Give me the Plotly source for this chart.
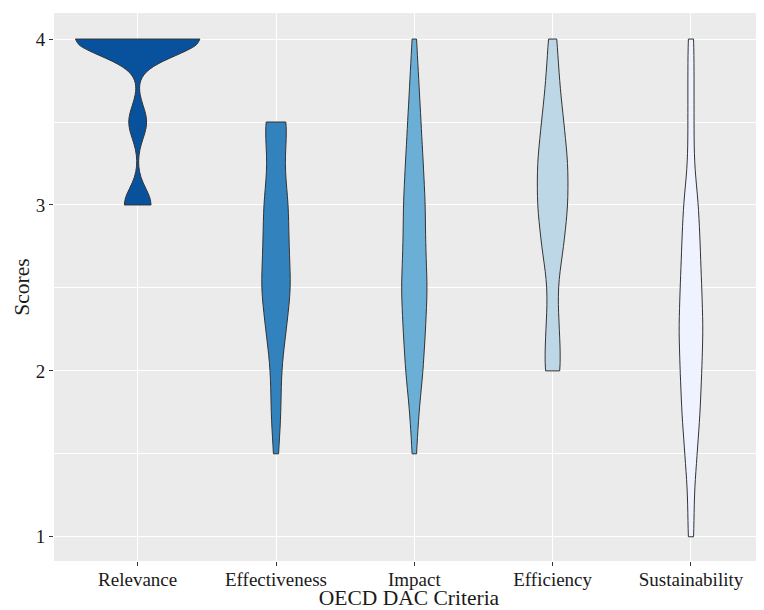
import numpy as np
import plotly.graph_objects as go

# ---- data -------------------------------------------------------------
criteria = ["Relevance", "Effectiveness", "Impact", "Efficiency", "Sustainability"]

# score levels and number of ratings at each level (estimated from the violins)
relevance_levels = [3.0, 3.5, 4.0]
relevance_counts = [6, 4, 28]

effectiveness_levels = [1.5, 1.75, 2.0, 2.25, 2.5, 2.75, 3.0, 3.25, 3.5]
effectiveness_counts = [1, 2, 2, 4, 6, 5, 5, 3, 5]

impact_levels = [1.5, 1.75, 2.0, 2.25, 2.5, 2.75, 3.0, 3.25, 3.5, 3.75, 4.0]
impact_counts = [1, 2, 4, 5, 6, 5, 5, 4, 3, 2, 1]

efficiency_levels = [2.0, 2.25, 2.5, 2.75, 3.0, 3.25, 3.5, 3.75, 4.0]
efficiency_counts = [4, 3, 2, 5, 7, 7, 5, 3, 2]

sustainability_levels = [1.0, 1.25, 1.5, 1.75, 2.0, 2.25, 2.5, 2.75, 3.0, 3.25, 3.5, 3.75, 4.0]
sustainability_counts = [2, 2, 4, 6, 7, 8, 7, 6, 5, 2, 2, 2, 2]

fill_colors = ["#08519C", "#3182BD", "#6BAED6", "#BDD7E7", "#EFF3FF"]
bandwidths = [0.1, 0.15, 0.15, 0.15, 0.15]

y_tick_vals = [1, 2, 3, 4]
y_tick_text = ["1", "2", "3", "4"]

# ---- figure -----------------------------------------------------------
levels_all = [relevance_levels, effectiveness_levels, impact_levels,
              efficiency_levels, sustainability_levels]
counts_all = [relevance_counts, effectiveness_counts, impact_counts,
              efficiency_counts, sustainability_counts]

FONT = "Liberation Serif, Times New Roman, serif"

fig = go.Figure()
for name, lv, ct, col, bw in zip(criteria, levels_all, counts_all, fill_colors, bandwidths):
    scores = np.repeat(lv, ct)
    fig.add_trace(go.Violin(
        x=[name] * len(scores),
        y=scores,
        name=name,
        fillcolor=col,
        line=dict(color="#333333", width=1),
        opacity=1,
        points=False,
        box_visible=False,
        meanline_visible=False,
        spanmode="hard",
        bandwidth=bw,
        scalegroup="all",
        scalemode="width",
        showlegend=False,
        hoverinfo="skip",
    ))

# the page body has an 8px default margin; size the figure to fill the 764x610 window
fig.update_layout(
    width=756, height=602,
    margin=dict(l=46, r=0, t=5, b=49, autoexpand=False),
    paper_bgcolor="white",
    plot_bgcolor="#EBEBEB",
    violinmode="overlay",
    violingap=0.1,
    violingroupgap=0,
    font=dict(family=FONT, color="#1a1a1a"),
    xaxis=dict(
        type="category",
        categoryorder="array",
        categoryarray=criteria,
        range=[-0.605, 4.528],
        automargin=False,
        showgrid=True, gridcolor="white", gridwidth=1.4,
        zeroline=False, showline=False,
        ticks="outside", ticklen=4, tickwidth=1, tickcolor="#333333",
        ticklabelstandoff=-3,
        tickfont=dict(family=FONT, size=19, color="#1a1a1a"),
        title=dict(text="OECD DAC Criteria", font=dict(family=FONT, size=21.5, color="#1a1a1a"),
                   standoff=9),
        fixedrange=True,
    ),
    yaxis=dict(
        range=[0.854, 4.157],
        automargin=False,
        tickvals=y_tick_vals, ticktext=y_tick_text,
        showgrid=True, gridcolor="white", gridwidth=1.4,
        minor=dict(dtick=0.5, tick0=0, showgrid=True, gridcolor="white", gridwidth=0.7, ticks=""),
        zeroline=False, showline=False,
        ticks="outside", ticklen=4, tickwidth=1, tickcolor="#333333",
        tickfont=dict(family=FONT, size=19, color="#1a1a1a"),
        title=dict(text="Scores", font=dict(family=FONT, size=21.5, color="#1a1a1a"),
                   standoff=0),
        fixedrange=True,
    ),
)

fig.write_html("out.html")
